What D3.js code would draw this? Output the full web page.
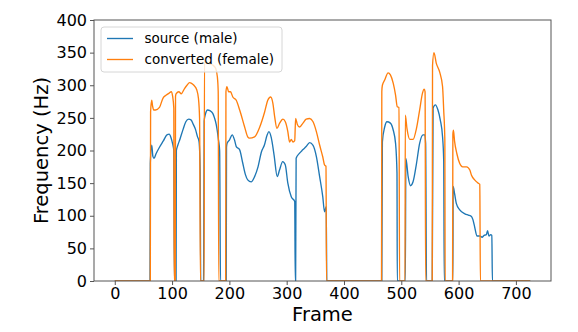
<!DOCTYPE html>
<html>
<head>
<meta charset="utf-8">
<script src="https://cdn.jsdelivr.net/npm/d3@7"></script>
<style>
  html, body { margin: 0; padding: 0; background: #fff; }
  svg { display: block; font-family: "DejaVu Sans", sans-serif; }
</style>
</head>
<body>
<svg id="chart" width="578" height="332"></svg>
<script>
// Tick values for each axis
const xTicks = [0, 100, 200, 300, 400, 500, 600, 700];
const yTicks = [0, 50, 100, 150, 200, 250, 300, 350, 400];
const seriesNames = ["source (male)", "converted (female)"];
const lastFrame = 725;

// F0 contour of the source speaker: [frame, Hz], 0 = unvoiced
const sourceF0 = [
  [0,0],[61.5,0],
  [62,180],[64.5,208],[66.5,191],[68.5,188],[72,195],[78,205],[85,215],[91,224],[95,225],[98,220],[101,210],[103,200],[104,0],
  [107,0],[107.5,200],[110,208],[114,218],[119,232],[124,244],[129,248],[133,247],[137,240],[141,232],[144,222],[147,214],[149,170],[150,0],
  [155,0],[156,245],[158,255],[162,262],[166,261],[171,257],[174,250],[177,240],[181,216],[183,200],[184.5,0],
  [194.5,0],[195,205],[196,211],[200,216],[205,224],[209,216],[212,206],[218,201],[223,182],[228,163],[232,155],[238,152],[244,160],[250,175],[256,198],[261,208],[266,224],[269,229],[273,220],[278,193],[283.5,160],[287.5,170],[293,183],[297.5,178],[302,150],[308,129],[314,122],[315,0],
  [315.6,0],[316.5,188],[322.5,196],[328,201],[334,206],[340,212],[346,208],[352,190],[357.5,160],[363,129],[366,106],[369,114],[370,0],
  [466,0],[467,213],[471,236],[475,244],[481,242],[486,231],[490,211],[492.5,165],[493,0],
  [507,0],[508,188],[512,160],[516,146],[520.5,152],[526.5,180],[532,211],[538,224],[541,224],[542.5,211],[544,0],
  [554,0],[555.5,265],[559.5,270],[564,262],[568,247],[572,221],[574,185],[575,0],
  [590,0],[590.5,145],[593,134],[596,119],[602,109],[611,103],[617,101],[622.5,99],[625,94],[628,83],[632,69],[637,69],[641,67],[644.5,70],[648.5,71],[650.5,77],[653,69],[656,71],[658,70],[659,0],
  [lastFrame,0]
];

// F0 contour after conversion: [frame, Hz], 0 = unvoiced
const convertedF0 = [
  [0,0],[62,0],
  [62.5,259],[64.5,277],[66,268],[68,262],[71,262],[78,266],[84,280],[90,285],[95,288],[98.5,290],[101,283],[103,265],[103.7,0],
  [105.5,0],[106,283],[107.2,287],[111.8,290],[116,287],[121.7,295],[126,300],[130.5,304],[134,303],[138,300],[143,293],[146,280],[148,249],[149.5,0],
  [156,0],[156.5,339],[162,334],[171,331],[176,326],[179,313],[180.5,290],[181.5,0],
  [193.5,0],[194,290],[195.7,298],[198.6,290],[202,290],[206,282],[212,277],[218,262],[226.6,236],[232,221],[235,219],[244,221],[253,236],[261.5,259],[267,277],[272,282],[276,272],[279,252],[283,234],[287.7,242],[293.5,248],[297.6,244],[302,229],[305,213],[308,217],[311,213],[314,215],[315.6,249],[318.6,240],[322.6,236],[328.4,242],[334,248],[340,249],[346,244],[351.8,229],[357.6,208],[363,190],[366,178],[368.6,176],[369.5,0],
  [465.5,0],[466,290],[467,300],[471,308],[477,319],[481,316],[486,303],[490,285],[493,267],[496,266],[497,0],
  [506.5,0],[507,254],[510,233],[514.8,217],[520.5,217],[526.5,234],[532,262],[537,288],[540,294],[541.5,290],[542.5,0],
  [554,0],[554.5,330],[557,350],[561,334],[567,320],[572,298],[574,262],[576,216],[576.5,0],
  [589.5,0],[590,225],[591,231],[593,214],[597,195],[602,180],[607,175],[614,175],[619.6,170],[622.5,162],[628,155],[634,150],[637,148],[638,0],
  [lastFrame,0]
];

const colors = ["#1f77b4", "#ff7f0e"];

const plot = { left: 94, right: 551, top: 20, bottom: 281 };
const pad = lastFrame * 0.05;

const x = d3.scaleLinear().domain([-pad, lastFrame + pad]).range([plot.left, plot.right]);
const y = d3.scaleLinear().domain([0, 400]).range([plot.bottom, plot.top]);

const svg = d3.select("#chart");

svg.append("defs").append("clipPath").attr("id", "plot-clip")
  .append("rect")
  .attr("x", plot.left).attr("y", plot.top)
  .attr("width", plot.right - plot.left).attr("height", plot.bottom - plot.top);

// Axes
const xAxis = svg.append("g")
  .attr("transform", `translate(0,${plot.bottom})`)
  .call(d3.axisBottom(x).tickValues(xTicks).tickSize(4).tickPadding(3).tickFormat(d3.format("d")));
const yAxis = svg.append("g")
  .attr("transform", `translate(${plot.left},0)`)
  .call(d3.axisLeft(y).tickValues(yTicks).tickSize(4).tickPadding(3).tickFormat(d3.format("d")));

[xAxis, yAxis].forEach(g => {
  g.select(".domain").remove();
  g.selectAll(".tick line").attr("stroke", "#555").attr("stroke-width", 1);
  g.selectAll(".tick text")
    .attr("fill", "#000")
    .style("font-family", "'DejaVu Sans', sans-serif")
    .style("font-size", "16px");
});

// Contour lines (monotone curve keeps the unvoiced drops from overshooting)
const line = d3.line().curve(d3.curveMonotoneX).x(d => x(d[0])).y(d => y(d[1]));
const lines = svg.append("g").attr("clip-path", "url(#plot-clip)");
[sourceF0, convertedF0].forEach((data, i) => {
  lines.append("path")
    .datum(data)
    .attr("fill", "none")
    .attr("stroke", colors[i])
    .attr("stroke-width", 1.35)
    .attr("stroke-linejoin", "round")
    .attr("d", line);
});

// Frame around the plot area
svg.append("rect")
  .attr("x", plot.left).attr("y", plot.top)
  .attr("width", plot.right - plot.left).attr("height", plot.bottom - plot.top)
  .attr("fill", "none").attr("stroke", "#555").attr("stroke-width", 1);

// Axis titles
svg.append("text")
  .attr("x", (plot.left + plot.right) / 2).attr("y", 321)
  .attr("text-anchor", "middle")
  .style("font-size", "19.5px")
  .text("Frame");
svg.append("text")
  .attr("transform", `translate(48,${(plot.top + plot.bottom) / 2}) rotate(-90)`)
  .attr("text-anchor", "middle")
  .style("font-size", "19.5px")
  .text("Frequency (Hz)");

// Legend
const legend = svg.append("g");
legend.append("rect")
  .attr("x", 101).attr("y", 27).attr("width", 181).attr("height", 45).attr("rx", 3)
  .attr("fill", "#fff").attr("fill-opacity", 0.8)
  .attr("stroke", "#d6d6d6").attr("stroke-width", 1);
seriesNames.forEach((name, i) => {
  const cy = 38.5 + i * 21;
  legend.append("line")
    .attr("x1", 107).attr("x2", 133).attr("y1", cy).attr("y2", cy)
    .attr("stroke", colors[i]).attr("stroke-width", 1.35);
  legend.append("text")
    .attr("x", 144.5).attr("y", cy + 4.8)
    .style("font-size", "13.5px")
    .text(name);
});
</script>
</body>
</html>
